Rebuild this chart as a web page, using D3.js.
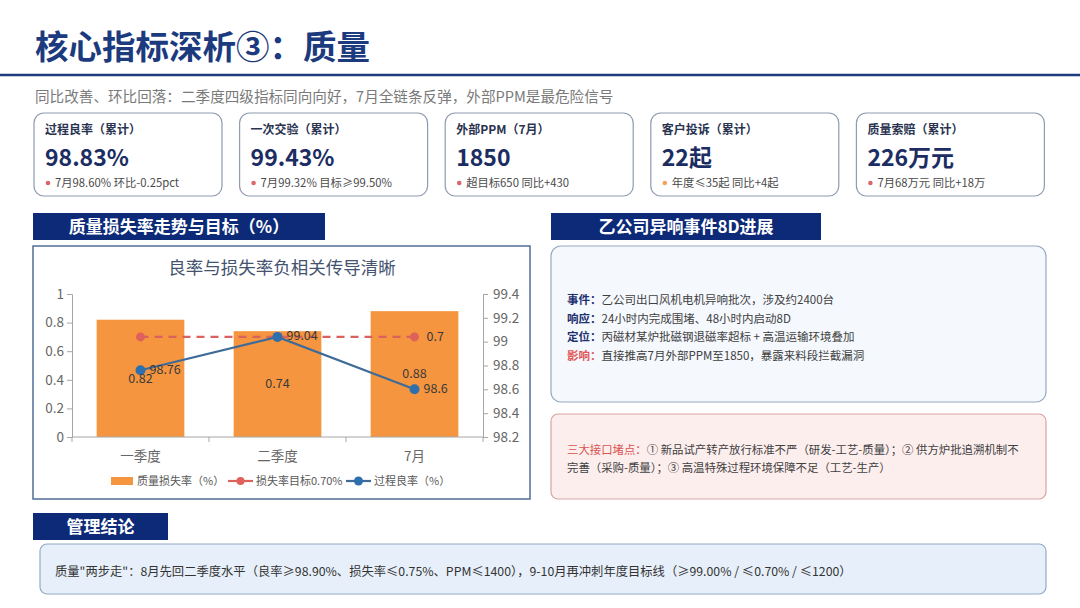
<!DOCTYPE html>
<html>
<head>
<meta charset="utf-8">
<script src="https://cdn.jsdelivr.net/npm/d3@7"></script>
<style>
  body { margin: 0; background: #fff; }
  svg { display: block; font-family: "Noto Sans CJK SC", "Microsoft YaHei", sans-serif; }
</style>
</head>
<body>
<div id="page"></div>
<script>
// chart data
const categories = ["一季度", "二季度", "7月"];
const lossRate = [0.82, 0.74, 0.88];
const lossTarget = [0.7, 0.7, 0.7];
const processYield = [98.76, 99.04, 98.6];
const leftTicks = [0, 0.2, 0.4, 0.6, 0.8, 1];
const rightTicks = [98.2, 98.4, 98.6, 98.8, 99, 99.2, 99.4];
const legendNames = ["质量损失率（%）", "损失率目标0.70%", "过程良率（%）"];

// KPI cards
const kpiLabels = ["过程良率（累计）", "一次交验（累计）", "外部PPM（7月）", "客户投诉（累计）", "质量索赔（累计）"];
const kpiValues = ["98.83%", "99.43%", "1850", "22起", "226万元"];
const kpiNotes = ["7月98.60% 环比-0.25pct", "7月99.32% 目标≥99.50%", "超目标650 同比+430", "年度≤35起 同比+4起", "7月68万元 同比+18万"];
const kpiDotColors = ["#d9666a", "#d9666a", "#d9666a", "#f0a55a", "#d9666a"];

// text blocks
const eventLabels = ["事件：", "响应：", "定位：", "影响："];
const eventTexts = ["乙公司出口风机电机异响批次，涉及约2400台", "24小时内完成围堵、48小时内启动8D", "丙磁材某炉批磁钢退磁率超标 + 高温运输环境叠加", "直接推高7月外部PPM至1850，暴露来料段拦截漏洞"];
const eventLabelColors = ["#1c2f6e", "#1c2f6e", "#1c2f6e", "#e05a5a"];
const riskLabel = "三大接口堵点：";
const riskLines = ["① 新品试产转产放行标准不严（研发-工艺-质量）；② 供方炉批追溯机制不", "完善（采购-质量）；③ 高温特殊过程环境保障不足（工艺-生产）"];
const conclusion = "质量\"两步走\"：8月先回二季度水平（良率≥98.90%、损失率≤0.75%、PPM≤1400），9-10月再冲刺年度目标线（≥99.00% / ≤0.70% / ≤1200）";

const navy = "#0c2a78";
const W = 1080, H = 608;

const svg = d3.select("#page").append("svg")
    .attr("width", W)
    .attr("height", H);

// title and rule
svg.append("text")
    .attr("x", 35).attr("y", 59)
    .attr("font-size", 33.5).attr("font-weight", "bold")
    .attr("fill", "#1c3a7e")
    .text("核心指标深析③：质量");

svg.append("line")
    .attr("x1", 0).attr("x2", W)
    .attr("y1", 75).attr("y2", 75)
    .attr("stroke", "#1c3a7e").attr("stroke-width", 2.5);

svg.append("text")
    .attr("x", 35).attr("y", 97).attr("dy", "0.35em")
    .attr("font-size", 14.6).attr("fill", "#7a7a7a")
    .text("同比改善、环比回落：二季度四级指标同向向好，7月全链条反弹，外部PPM是最危险信号");

// KPI cards
const cardW = 188, cardStep = 205.6;
kpiLabels.forEach((label, i) => {
    const g = svg.append("g").attr("transform", `translate(${34 + i * cardStep},113)`);
    g.append("rect")
        .attr("width", cardW).attr("height", 83)
        .attr("rx", 10)
        .attr("fill", "#fff").attr("stroke", "#8e9bb0").attr("stroke-width", 1.2);
    g.append("text")
        .attr("x", 11).attr("y", 17).attr("dy", "0.35em")
        .attr("font-size", 12).attr("font-weight", "bold").attr("fill", "#2a3350")
        .text(label);
    g.append("text")
        .attr("x", 11).attr("y", 45).attr("dy", "0.35em")
        .attr("font-size", 23).attr("font-weight", "bold").attr("fill", "#1b2d63")
        .text(kpiValues[i]);
    g.append("circle")
        .attr("cx", 14).attr("cy", 70).attr("r", 2.3)
        .attr("fill", kpiDotColors[i]);
    g.append("text")
        .attr("x", 21).attr("y", 70).attr("dy", "0.35em")
        .attr("font-size", 11.3).attr("fill", "#4a4a4a")
        .text(kpiNotes[i]);
});

// section headers
function header(x, y, w, label) {
    svg.append("rect")
        .attr("x", x).attr("y", y).attr("width", w).attr("height", 27)
        .attr("fill", navy);
    svg.append("text")
        .attr("x", x + w / 2).attr("y", y + 13.5).attr("dy", "0.36em")
        .attr("text-anchor", "middle")
        .attr("font-size", 17).attr("font-weight", "bold").attr("fill", "#fff")
        .text(label);
}
header(33, 213, 292, "质量损失率走势与目标（%）");
header(551, 213, 270, "乙公司异响事件8D进展");
header(33, 513, 135, "管理结论");

// chart box
svg.append("rect")
    .attr("x", 33).attr("y", 246).attr("width", 497).attr("height", 253)
    .attr("fill", "#fff").attr("stroke", "#4f6f95").attr("stroke-width", 1.5);

svg.append("text")
    .attr("x", 282).attr("y", 268).attr("dy", "0.35em")
    .attr("text-anchor", "middle")
    .attr("font-size", 17.5).attr("fill", "#44536f")
    .text("良率与损失率负相关传导清晰");

// scales
const x = d3.scaleBand()
    .domain(categories)
    .range([72, 483])
    .paddingInner(0.36)
    .paddingOuter(0.18);

const yL = d3.scaleLinear().domain([0, 1]).range([437, 294]);
const yR = d3.scaleLinear().domain([98.2, 99.4]).range([437, 294]);
const cx = d => x(d) + x.bandwidth() / 2;

const axisColor = "#a6a6a6";
const tickText = "#666";

function styleAxis(g) {
    g.selectAll(".domain").attr("stroke", axisColor);
    g.selectAll(".tick line").attr("stroke", axisColor);
    g.selectAll(".tick text")
        .attr("fill", tickText)
        .attr("font-size", 13.5)
        .attr("font-family", "\"Noto Sans CJK SC\", \"Microsoft YaHei\", sans-serif");
}

// bars
svg.append("g").selectAll("rect")
    .data(lossRate)
    .enter().append("rect")
    .attr("x", (d, i) => x(categories[i]))
    .attr("y", d => yL(d))
    .attr("width", x.bandwidth())
    .attr("height", d => yL(0) - yL(d))
    .attr("fill", "#f5953f");

// left axis
svg.append("g")
    .attr("transform", `translate(${x.range()[0]},0)`)
    .call(d3.axisLeft(yL).tickValues(leftTicks).tickSize(5).tickPadding(3).tickFormat(d => String(d)))
    .call(styleAxis);

// right axis
svg.append("g")
    .attr("transform", `translate(${x.range()[1]},0)`)
    .call(d3.axisRight(yR).tickValues(rightTicks).tickSize(5).tickPadding(5).tickFormat(d => String(d)))
    .call(styleAxis);

// bottom axis
const bottom = svg.append("g")
    .attr("transform", `translate(0,${yL(0)})`)
    .call(d3.axisBottom(x).tickSize(0).tickPadding(14))
    .call(styleAxis);
bottom.selectAll(".domain").remove();
bottom.append("line")
    .attr("x1", x.range()[0]).attr("x2", x.range()[1])
    .attr("stroke", axisColor);
bottom.selectAll(".sep")
    .data(d3.range(categories.length + 1))
    .enter().append("line")
    .attr("x1", i => x.range()[0] + i * x.step())
    .attr("x2", i => x.range()[0] + i * x.step())
    .attr("y1", 0).attr("y2", 5)
    .attr("stroke", axisColor);

// target line
const targetLine = d3.line()
    .x((d, i) => cx(categories[i]))
    .y(d => yL(d));

svg.append("path")
    .datum(lossTarget)
    .attr("d", targetLine)
    .attr("fill", "none")
    .attr("stroke", "#d9625e")
    .attr("stroke-width", 2.2)
    .attr("stroke-dasharray", "8,6");

svg.append("g").selectAll("circle")
    .data(lossTarget)
    .enter().append("circle")
    .attr("cx", (d, i) => cx(categories[i]))
    .attr("cy", d => yL(d))
    .attr("r", 4.5)
    .attr("fill", "#e0605c");

// yield line
const yieldLine = d3.line()
    .x((d, i) => cx(categories[i]))
    .y(d => yR(d));

svg.append("path")
    .datum(processYield)
    .attr("d", yieldLine)
    .attr("fill", "none")
    .attr("stroke", "#3f6b98")
    .attr("stroke-width", 2.2);

svg.append("g").selectAll("circle")
    .data(processYield)
    .enter().append("circle")
    .attr("cx", (d, i) => cx(categories[i]))
    .attr("cy", d => yR(d))
    .attr("r", 5)
    .attr("fill", "#2e6fae");

// data labels
const labelFont = 12.5, labelColor = "#3a3a3a";
svg.append("g").selectAll("text")
    .data(lossRate)
    .enter().append("text")
    .attr("x", (d, i) => cx(categories[i]))
    .attr("y", d => yL(d / 2))
    .attr("dy", "0.35em")
    .attr("text-anchor", "middle")
    .attr("font-size", labelFont).attr("fill", labelColor)
    .text(d => d);

svg.append("g").selectAll("text")
    .data(processYield)
    .enter().append("text")
    .attr("x", (d, i) => cx(categories[i]) + 9)
    .attr("y", d => yR(d) - 1)
    .attr("dy", "0.35em")
    .attr("font-size", labelFont).attr("fill", labelColor)
    .text(d => d);

const lastIdx = lossTarget.length - 1;
svg.append("text")
    .attr("x", cx(categories[lastIdx]) + 12)
    .attr("y", yL(lossTarget[lastIdx]))
    .attr("dy", "0.35em")
    .attr("font-size", labelFont).attr("fill", labelColor)
    .text(lossTarget[lastIdx]);

// legend
const legend = svg.append("g").attr("transform", "translate(0,481)");
legend.append("rect")
    .attr("x", 111).attr("y", -4).attr("width", 22).attr("height", 8)
    .attr("fill", "#f5953f");
legend.append("text")
    .attr("x", 137).attr("dy", "0.35em")
    .attr("font-size", 11).attr("fill", "#595959")
    .text(legendNames[0]);

legend.append("line")
    .attr("x1", 228).attr("x2", 253)
    .attr("stroke", "#d9625e").attr("stroke-width", 2.2);
legend.append("circle")
    .attr("cx", 240.5).attr("r", 4).attr("fill", "#e0605c");
legend.append("text")
    .attr("x", 256).attr("dy", "0.35em")
    .attr("font-size", 11).attr("fill", "#595959")
    .text(legendNames[1]);

legend.append("line")
    .attr("x1", 346).attr("x2", 371)
    .attr("stroke", "#3f6b98").attr("stroke-width", 2.2);
legend.append("circle")
    .attr("cx", 358.5).attr("r", 4.5).attr("fill", "#2e6fae");
legend.append("text")
    .attr("x", 374).attr("dy", "0.35em")
    .attr("font-size", 11).attr("fill", "#595959")
    .text(legendNames[2]);

// event panel
svg.append("rect")
    .attr("x", 551).attr("y", 246).attr("width", 495).attr("height", 156)
    .attr("rx", 10)
    .attr("fill", "#f5f8fd").attr("stroke", "#94aac4").attr("stroke-width", 1.2);

eventLabels.forEach((label, i) => {
    const t = svg.append("text")
        .attr("x", 567).attr("y", 300 + i * 18.5).attr("dy", "0.35em")
        .attr("font-size", 11.5);
    t.append("tspan")
        .attr("font-weight", "bold").attr("fill", eventLabelColors[i])
        .text(label);
    t.append("tspan")
        .attr("fill", "#404040")
        .text(eventTexts[i]);
});

// risk panel
svg.append("rect")
    .attr("x", 551).attr("y", 414).attr("width", 495).attr("height", 85)
    .attr("rx", 7)
    .attr("fill", "#fdeeee").attr("stroke", "#d8a4a4").attr("stroke-width", 1.2);

riskLines.forEach((line, i) => {
    const t = svg.append("text")
        .attr("x", 567).attr("y", 450 + i * 18).attr("dy", "0.35em")
        .attr("font-size", 11.4);
    if (i === 0) {
        t.append("tspan").attr("fill", "#d9534f").text(riskLabel);
    }
    t.append("tspan").attr("fill", "#404040").text(line);
});

// conclusion panel
svg.append("rect")
    .attr("x", 40).attr("y", 544).attr("width", 1006).attr("height", 50)
    .attr("rx", 7)
    .attr("fill", "#e7f0fa").attr("stroke", "#94aac4").attr("stroke-width", 1.2);

svg.append("text")
    .attr("x", 55).attr("y", 572).attr("dy", "0.35em")
    .attr("font-size", 12.3).attr("fill", "#333")
    .text(conclusion);
</script>
</body>
</html>
